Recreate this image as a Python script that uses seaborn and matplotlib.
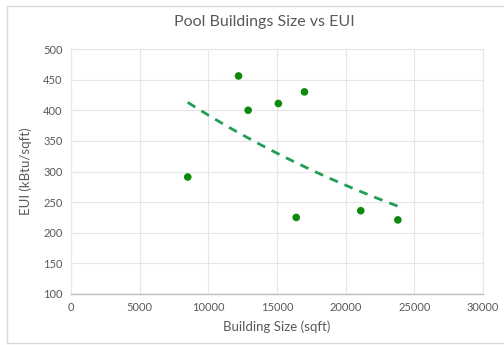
import numpy as np
import pandas as pd
import matplotlib
matplotlib.use("Agg")
import matplotlib.pyplot as plt
import seaborn as sns
from matplotlib.lines import Line2D

# data
building_size = [8500, 12200, 12900, 15100, 17000, 16400, 21100, 23800]
eui = [291, 456, 400, 411, 430, 225, 236, 221]
x_ticks = [0, 5000, 10000, 15000, 20000, 25000, 30000]
y_ticks = [100, 150, 200, 250, 300, 350, 400, 450, 500]

df = pd.DataFrame({"size": building_size, "eui": eui})

# exponential trendline (fit of ln(y) on x), spanning the data range
b, a = np.polyfit(df["size"], np.log(df["eui"]), 1)
trend_x = np.linspace(df["size"].min(), df["size"].max(), 50)
trend = pd.DataFrame({"size": trend_x, "eui": np.exp(a + b * trend_x)})

sns.set_theme(style="white")
plt.rcParams["font.family"] = ["Lato", "DejaVu Sans"]

text_col = "#595959"
grid_col = "#e6e6e6"

fig = plt.figure(figsize=(5.04, 3.45), dpi=100)
ax = fig.add_axes([71 / 504, 1 - 294 / 345, (483 - 71) / 504, (294 - 49) / 345])

# chart-area border: left, top and bottom only (right side is cut off)
bx0, by0, by1 = 7 / 504, 1 - 343 / 345, 1 - 6 / 345
for xs, ys in [([bx0, bx0], [by0, by1]), ([bx0, 1.0], [by1, by1]), ([bx0, 1.0], [by0, by0])]:
    fig.lines.append(Line2D(xs, ys, transform=fig.transFigure, color="#d9d9d9", linewidth=1.0))

sns.lineplot(data=trend, x="size", y="eui", ax=ax, color="#1f9e55", linewidth=2.0,
             linestyle=(0, (3.2, 2.6)), zorder=2)
sns.scatterplot(data=df, x="size", y="eui", ax=ax, color="#0b8a0b", s=30,
                edgecolor="none", zorder=3)

ax.set_xlim(0, 30000)
ax.set_ylim(100, 500)
ax.set_xticks(x_ticks)
ax.set_yticks(y_ticks)
ax.grid(True, color=grid_col, linewidth=0.8)
ax.set_axisbelow(True)
for side in ["top", "right", "left"]:
    ax.spines[side].set_color(grid_col)
    ax.spines[side].set_linewidth(0.8)
ax.spines["bottom"].set_color("#bfbfbf")
ax.spines["bottom"].set_linewidth(1.0)
ax.tick_params(axis="both", length=0, labelsize=8, labelcolor=text_col, pad=6)

ax.set_xlabel("Building Size (sqft)", fontsize=9.5, color=text_col, labelpad=5)
ax.set_ylabel("EUI (kBtu/sqft)", fontsize=9.5, color=text_col, labelpad=8)
fig.text(264 / 504, 1 - 22 / 345, "Pool Buildings Size vs EUI", ha="center", va="center",
         fontsize=11.5, color=text_col)

fig.savefig("out.png", dpi=100)
